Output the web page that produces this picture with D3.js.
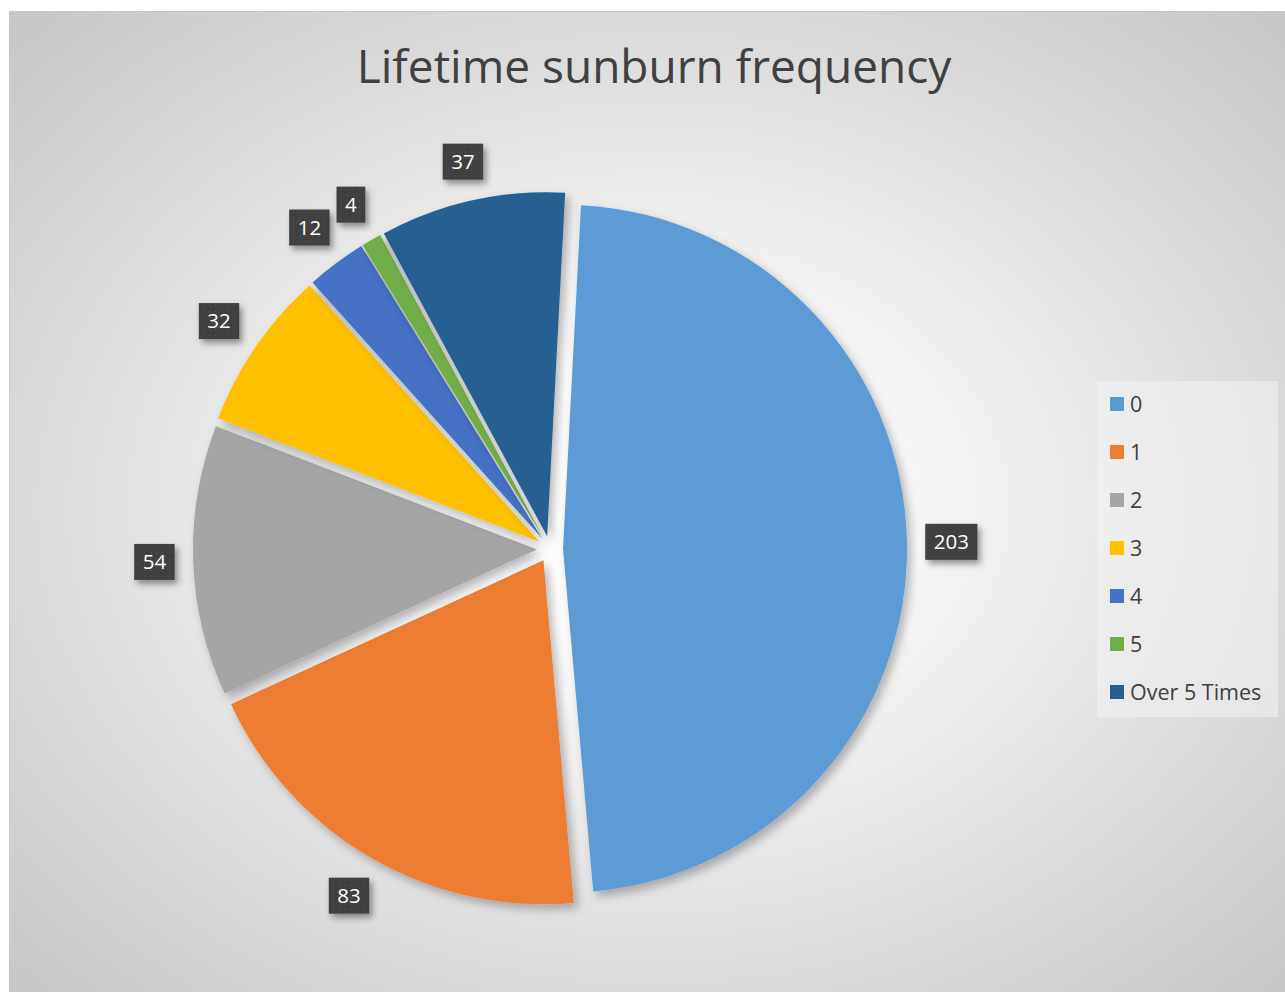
<!DOCTYPE html>
<html>
<head>
<meta charset="utf-8">
<script src="https://cdn.jsdelivr.net/npm/d3@7"></script>
<style>
  html, body { margin: 0; padding: 0; background: #ffffff; }
  svg { display: block; font-family: "Open Sans", "Noto Sans", sans-serif; }
</style>
</head>
<body>
<div id="chart"></div>
<script>
// Lifetime sunburn frequency - exploded pie with outside-end labels

const categories = ["0", "1", "2", "3", "4", "5", "Over 5 Times"];
const counts = [203, 83, 54, 32, 12, 4, 37];
const sliceColors = ["#5B9BD5", "#ED7D31", "#A5A5A5", "#FFC000", "#4472C4", "#70AD47", "#255E91"];
const chartTitle = "Lifetime sunburn frequency";

const width = 1285;
const height = 992;

const svg = d3.select("#chart")
    .append("svg")
    .attr("width", width)
    .attr("height", height);

const defs = svg.append("defs");

// background gradient (elliptical, follows the chart area box)
const bg = defs.append("radialGradient")
    .attr("id", "bgGrad")
    .attr("cx", 0.5).attr("cy", 0.5).attr("r", 0.707);
bg.append("stop").attr("offset", "0").attr("stop-color", "#ffffff");
bg.append("stop").attr("offset", "0.22").attr("stop-color", "#fbfbfb");
bg.append("stop").attr("offset", "0.5").attr("stop-color", "#e7e7e7");
bg.append("stop").attr("offset", "0.707").attr("stop-color", "#d9d9d9");
bg.append("stop").attr("offset", "1").attr("stop-color", "#c6c6c6");

// slice shadow
const sliceShadow = defs.append("filter")
    .attr("id", "sliceShadow")
    .attr("x", "-20%").attr("y", "-20%").attr("width", "140%").attr("height", "140%");
sliceShadow.append("feDropShadow")
    .attr("dx", 4).attr("dy", 5).attr("stdDeviation", 5)
    .attr("flood-color", "#000").attr("flood-opacity", 0.28);

const labelShadow = defs.append("filter")
    .attr("id", "labelShadow")
    .attr("x", "-40%").attr("y", "-40%").attr("width", "180%").attr("height", "180%");
labelShadow.append("feDropShadow")
    .attr("dx", 3).attr("dy", 4).attr("stdDeviation", 3)
    .attr("flood-color", "#000").attr("flood-opacity", 0.4);

// dotted fill for the label boxes
const dots = defs.append("pattern")
    .attr("id", "dots")
    .attr("patternUnits", "userSpaceOnUse")
    .attr("width", 6).attr("height", 6);
dots.append("rect").attr("width", 6).attr("height", 6).attr("fill", "#404040");
dots.append("rect").attr("x", 2).attr("y", 2).attr("width", 1).attr("height", 1).attr("fill", "#5a5a5a");

// chart area
svg.append("rect")
    .attr("x", 9.5).attr("y", 11.5)
    .attr("width", 1292).attr("height", 992)
    .attr("fill", "url(#bgGrad)")
    .attr("stroke", "#c8c8c8")
    .attr("stroke-width", 1);

// title
svg.append("text")
    .attr("x", 654)
    .attr("y", 83)
    .attr("text-anchor", "middle")
    .attr("font-size", "46px")
    .attr("fill", "#404040")
    .text(chartTitle);

// pie
const cx = 550, cy = 549;
const radius = 344;
const explode = 13;
const labelGap = 18;

const pie = d3.pie()
    .sort(null)
    .startAngle(3 * Math.PI / 180)
    .endAngle(3 * Math.PI / 180 + 2 * Math.PI)
    .value(d => d);

const arc = d3.arc()
    .innerRadius(0)
    .outerRadius(radius);

const arcsData = pie(counts);

const pieG = svg.append("g")
    .attr("transform", `translate(${cx}, ${cy})`);

function midAngle(d) {
    return (d.startAngle + d.endAngle) / 2;
}

function offsetOf(d, dist) {
    const mid = midAngle(d);
    return [Math.sin(mid) * dist, -Math.cos(mid) * dist];
}

pieG.selectAll("path.slice")
    .data(arcsData)
    .enter()
    .append("path")
    .attr("class", "slice")
    .attr("transform", d => `translate(${offsetOf(d, explode)})`)
    .attr("d", arc)
    .attr("fill", (d, i) => sliceColors[i])
    .attr("filter", "url(#sliceShadow)");

// data labels, box pushed just outside the arc
const labels = pieG.selectAll("g.label")
    .data(arcsData)
    .enter()
    .append("g")
    .attr("class", "label");

labels.append("rect")
    .attr("fill", "url(#dots)")
    .attr("filter", "url(#labelShadow)");

labels.append("text")
    .attr("text-anchor", "middle")
    .attr("dy", "0.35em")
    .attr("font-size", "20.5px")
    .attr("fill", "#ffffff")
    .text(d => d.data);

labels.each(function(d) {
    const g = d3.select(this);
    const w = g.select("text").node().getComputedTextLength() + 17;
    const h = 36;
    g.select("rect")
        .attr("x", -w / 2).attr("y", -h / 2)
        .attr("width", w).attr("height", h);
    const mid = midAngle(d);
    const extent = Math.abs(Math.sin(mid)) * w / 2 + Math.abs(Math.cos(mid)) * h / 2;
    const [ox, oy] = offsetOf(d, explode);
    const [lx, ly] = offsetOf(d, radius + labelGap + extent);
    g.attr("transform", `translate(${ox + lx}, ${oy + ly})`);
});

// legend
const legend = svg.append("g")
    .attr("transform", "translate(1097, 381)");

legend.append("rect")
    .attr("width", 181)
    .attr("height", 336)
    .attr("fill", "#f2f2f2")
    .attr("fill-opacity", 0.55);

const items = legend.selectAll("g.item")
    .data(categories)
    .enter()
    .append("g")
    .attr("class", "item")
    .attr("transform", (d, i) => `translate(13, ${23 + i * 48})`);

items.append("rect")
    .attr("x", 0).attr("y", -7)
    .attr("width", 14).attr("height", 14)
    .attr("fill", (d, i) => sliceColors[i]);

items.append("text")
    .attr("x", 20)
    .attr("dy", "0.36em")
    .attr("font-size", "21.5px")
    .attr("fill", "#404040")
    .text(d => d);
</script>
</body>
</html>
